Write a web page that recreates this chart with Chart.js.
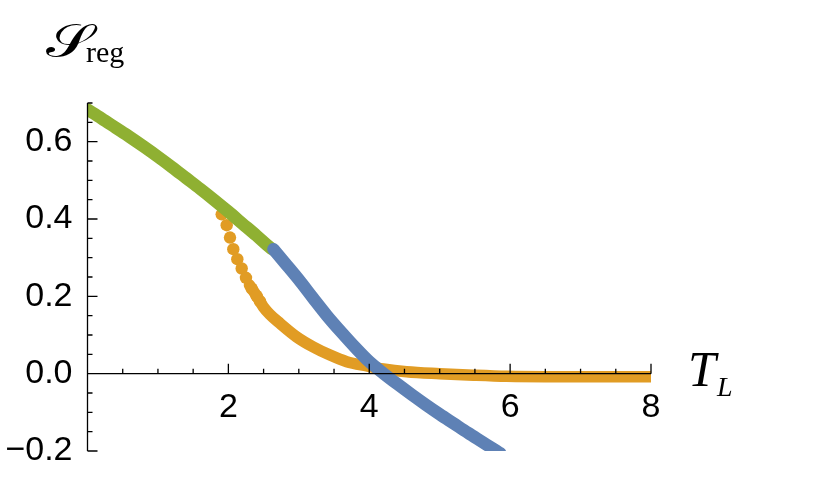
<!DOCTYPE html>
<html>
<head>
<meta charset="utf-8">
<script src="https://cdn.jsdelivr.net/npm/chart.js@4.4.1/dist/chart.umd.min.js"></script>
<style>
  html, body { margin: 0; padding: 0; background: #fff; }
  #wrap { width: 830px; height: 479px; }
</style>
</head>
<body>
<div id="wrap"><canvas id="chart" width="830" height="479"></canvas></div>
<script>
// values (T_L, S_reg)
const greenT = [0, 0.2, 0.4, 0.6, 0.8, 1.0, 1.2, 1.4, 1.6, 1.8, 2.0, 2.2, 2.4, 2.6, 2.64];
const greenS = [0.683, 0.660, 0.636, 0.612, 0.587, 0.561, 0.534, 0.506, 0.478, 0.449, 0.419, 0.388, 0.357, 0.325, 0.320];

const blueT = [2.64, 2.8, 3.0, 3.2, 3.4, 3.6, 3.8, 4.0, 4.2, 4.4, 4.6, 4.8, 5.0, 5.2, 5.4, 5.6, 5.8, 5.86];
const blueS = [0.322, 0.287, 0.243, 0.196, 0.150, 0.108, 0.068, 0.031, 0.001, -0.027, -0.054, -0.080, -0.105, -0.129, -0.153, -0.176, -0.199, -0.206];

// separate orange dots where the branch drops steeply
const orangeDotT = [1.905, 1.976, 2.023, 2.070, 2.127, 2.189, 2.250, 2.331, 2.40, 2.45];
const orangeDotS = [0.412, 0.384, 0.352, 0.322, 0.296, 0.272, 0.248, 0.220, 0.201, 0.187];

// rest of the orange branch, dense enough to look like a band
const orangeT = [2.30, 2.40, 2.496, 2.59, 2.733, 2.97, 3.206, 3.443, 3.68, 3.964, 4.2, 4.53, 5.0, 5.48, 5.95, 6.5, 7.0, 8.0];
const orangeS = [0.229, 0.201, 0.173, 0.153, 0.130, 0.095, 0.069, 0.048, 0.031, 0.020, 0.012, 0.005, 0.000, -0.004, -0.007, -0.008, -0.008, -0.008];

const xLabelValues = [2, 4, 6, 8];
const yLabelValues = [-0.2, 0.0, 0.2, 0.4, 0.6];

const BLUE = '#5E81B5', ORANGE = '#E19C24', GREEN = '#8FB032';

const pts = (xs, ys) => xs.map((x, i) => ({ x, y: ys[i] }));
const near = (v, list) => list.some(l => Math.abs(v - l) < 1e-6);
const fmtY = v => (Math.abs(v) < 1e-9 ? 0 : v).toFixed(1).replace('-', '\u2212');

const mmaAxes = {
  id: 'mmaAxes',
  afterDatasetsDraw(chart) {
    const { ctx, scales: { x, y } } = chart;
    const x0 = x.getPixelForValue(0), x8 = x.getPixelForValue(8);
    const y0 = y.getPixelForValue(0);
    const yTop = y.getPixelForValue(0.7), yBot = y.getPixelForValue(-0.2);
    ctx.save();
    ctx.strokeStyle = '#000';
    ctx.lineWidth = 1.3;
    ctx.beginPath();
    ctx.moveTo(x0, y0); ctx.lineTo(x8, y0);
    ctx.moveTo(x0, yTop); ctx.lineTo(x0, yBot);
    x.ticks.forEach(t => {
      if (t.value <= 0) return;
      const px = x.getPixelForValue(t.value);
      const len = near(t.value, xLabelValues) ? 10 : 5;
      ctx.moveTo(px, y0); ctx.lineTo(px, y0 - len);
    });
    y.ticks.forEach(t => {
      const py = y.getPixelForValue(t.value);
      const len = near(t.value, yLabelValues) ? 10 : 5;
      ctx.moveTo(x0, py); ctx.lineTo(x0 + len, py);
    });
    ctx.stroke();

    // axis labels
    ctx.fillStyle = '#000';
    ctx.textBaseline = 'alphabetic';
    ctx.textAlign = 'left';
    ctx.save();
    ctx.translate(46, 57);
    ctx.scale(1.3, 1);
    ctx.font = '46px "DejaVu Serif", "DejaVu Sans", serif';
    ctx.fillText('\u{1D4AE}', 0, 0);
    ctx.restore();
    ctx.font = '30px "Liberation Serif"';
    ctx.fillText('reg', 86, 62);
    ctx.font = 'italic 50px "Liberation Serif"';
    ctx.fillText('T', 688, 386);
    ctx.font = 'italic 28px "Liberation Serif"';
    ctx.fillText('L', 717, 396);
    ctx.restore();
  }
};

const lineSet = (label, data, color, width) => ({
  label, data,
  showLine: true,
  borderColor: color,
  borderWidth: width,
  borderCapStyle: 'round',
  borderJoinStyle: 'round',
  cubicInterpolationMode: 'monotone',
  pointRadius: 0,
  pointHoverRadius: 0
});

new Chart(document.getElementById('chart'), {
  type: 'scatter',
  data: {
    datasets: [
      lineSet('blue', pts(blueT, blueS), BLUE, 12.5),
      lineSet('green', pts(greenT, greenS), GREEN, 12.5),
      {
        label: 'orange dots',
        data: pts(orangeDotT, orangeDotS),
        showLine: false,
        pointRadius: 6.2,
        pointBorderWidth: 0,
        pointBackgroundColor: ORANGE,
        pointBorderColor: ORANGE
      },
      lineSet('orange', pts(orangeT, orangeS), ORANGE, 11.5)
    ]
  },
  options: {
    responsive: false,
    animation: false,
    devicePixelRatio: 1,
    layout: { padding: { left: 0, right: 179, top: 103, bottom: 28 } },
    plugins: { legend: { display: false }, tooltip: { enabled: false } },
    scales: {
      x: {
        type: 'linear',
        min: 0, max: 8,
        position: { y: 0 },
        afterFit: s => { s.height = 0; s.paddingLeft = 0; s.paddingRight = 0; },
        grid: { display: false, drawTicks: false },
        border: { display: false },
        ticks: {
          stepSize: 0.5,
          autoSkip: false,
          maxRotation: 0,
          padding: 14,
          color: '#000',
          font: { family: '"Liberation Sans", Arial, sans-serif', size: 34 },
          callback: v => near(v, xLabelValues) ? String(Math.round(v)) : ''
        }
      },
      y: {
        type: 'linear',
        min: -0.2, max: 0.7,
        position: 'left',
        afterFit: s => { s.width = 87.5; s.paddingTop = 0; s.paddingBottom = 0; },
        grid: { display: false, drawTicks: false },
        border: { display: false },
        ticks: {
          stepSize: 0.05,
          autoSkip: false,
          padding: 15,
          color: '#000',
          font: { family: '"Liberation Sans", Arial, sans-serif', size: 34 },
          callback: v => near(v, yLabelValues) ? fmtY(v) : ''
        }
      }
    }
  },
  plugins: [mmaAxes]
});
</script>
</body>
</html>
